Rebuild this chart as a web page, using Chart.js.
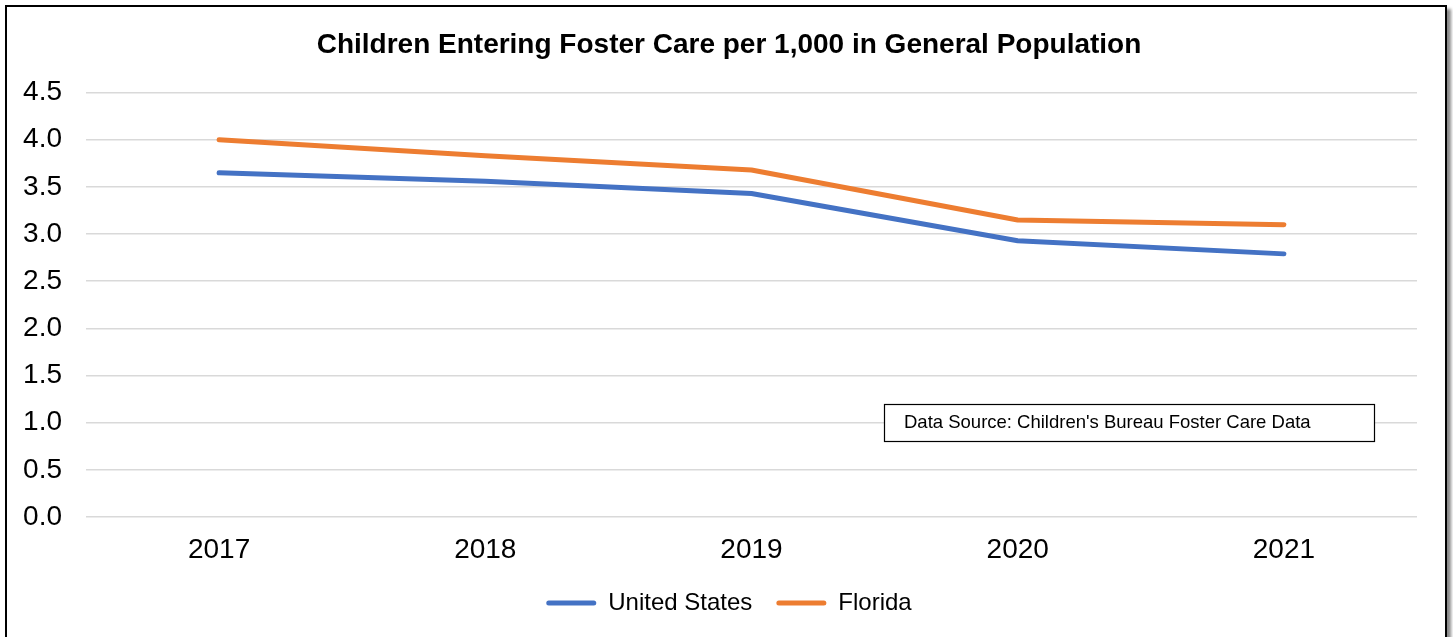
<!DOCTYPE html>
<html>
<head>
<meta charset="utf-8">
<script src="https://cdn.jsdelivr.net/npm/chart.js@4"></script>
<style>
  html, body { margin: 0; padding: 0; background: #fff; overflow: hidden; }
  #wrap { position: absolute; left: 0; top: 0; width: 1453px; height: 637px; }
  #frame {
    position: absolute; left: 5px; top: 5px; width: 1442px; height: 700px;
    box-sizing: border-box; border: 2px solid #000;
    box-shadow: 4px 4px 3px #8a8a8a; pointer-events: none;
  }
</style>
</head>
<body>
<div id="wrap"><canvas id="myChart" width="1453" height="637"></canvas></div>
<div id="frame"></div>
<script>
const years = ["2017", "2018", "2019", "2020", "2021"];
const unitedStates = [3.65, 3.56, 3.43, 2.93, 2.79];
const florida = [4.00, 3.83, 3.68, 3.15, 3.10];
const sourceNote = "Data Source: Children's Bureau Foster Care Data";

const FONT = "Arial, 'Liberation Sans', sans-serif";

// the little "Data Source" box in the lower right
const noteBox = {
    id: "noteBox",
    afterDraw(chart) {
        const ctx = chart.ctx;
        ctx.save();
        ctx.fillStyle = "#fff";
        ctx.fillRect(884, 404, 490, 37);
        ctx.strokeStyle = "#000";
        ctx.lineWidth = 1.2;
        ctx.strokeRect(884.5, 404.5, 490, 37);
        ctx.fillStyle = "#000";
        ctx.font = "18.5px " + FONT;
        ctx.textBaseline = "middle";
        ctx.fillText(sourceNote, 904, 423);
        ctx.restore();
    }
};

const info = {
    labels: years,
    datasets: [
        {
            label: "United States",
            data: unitedStates,
            borderColor: "#4472C4",
            backgroundColor: "#4472C4",
            borderWidth: 5,
            borderCapStyle: "round",
            borderJoinStyle: "round",
            pointRadius: 0,
            tension: 0
        },
        {
            label: "Florida",
            data: florida,
            borderColor: "#ED7D31",
            backgroundColor: "#ED7D31",
            borderWidth: 5,
            borderCapStyle: "round",
            borderJoinStyle: "round",
            pointRadius: 0,
            tension: 0
        }
    ]
};

const options = {
    responsive: false,
    animation: false,
    layout: { padding: { left: 5, right: 0, top: 0, bottom: 12 } },
    scales: {
        x: {
            offset: true,
            grid: { display: false, drawTicks: false },
            border: { display: false },
            ticks: { color: "#000", font: { family: FONT, size: 28 }, padding: 16 },
            afterFit: (s) => { s.height = 50; }
        },
        y: {
            min: 0,
            max: 4.5,
            ticks: {
                stepSize: 0.5,
                color: "#000",
                font: { family: FONT, size: 28 },
                padding: 24,
                callback: (v) => v.toFixed(1)
            },
            grid: { color: "#d9d9d9", lineWidth: 1.5, drawTicks: false },
            border: { display: false },
            afterFit: (s) => { s.width = 81; }
        },
        // empty right-hand spacer so title and legend sit where they do in the original
        spacer: {
            type: "linear",
            position: "right",
            min: 0,
            max: 4.5,
            grid: { display: false, drawTicks: false },
            border: { display: false },
            ticks: { display: false },
            afterFit: (s) => { s.width = 36; }
        }
    },
    plugins: {
        title: {
            display: true,
            text: "Children Entering Foster Care per 1,000 in General Population",
            color: "#000",
            font: { family: FONT, size: 28, weight: "bold" },
            padding: { top: 28, bottom: 31 }
        },
        legend: {
            position: "bottom",
            labels: {
                color: "#000",
                font: { family: FONT, size: 24 },
                boxWidth: 50,
                boxHeight: 5,
                useBorderRadius: true,
                borderRadius: 2.5,
                padding: 24,
                generateLabels: (chart) => Chart.defaults.plugins.legend.labels.generateLabels(chart).map((l) => {
                    l.lineWidth = 0;
                    return l;
                })
            }
        },
        tooltip: { enabled: false }
    }
};

const config = {
    type: "line",
    data: info,
    options,
    plugins: [noteBox]
};

const myChart = new Chart(document.getElementById("myChart"), config);
</script>
</body>
</html>
